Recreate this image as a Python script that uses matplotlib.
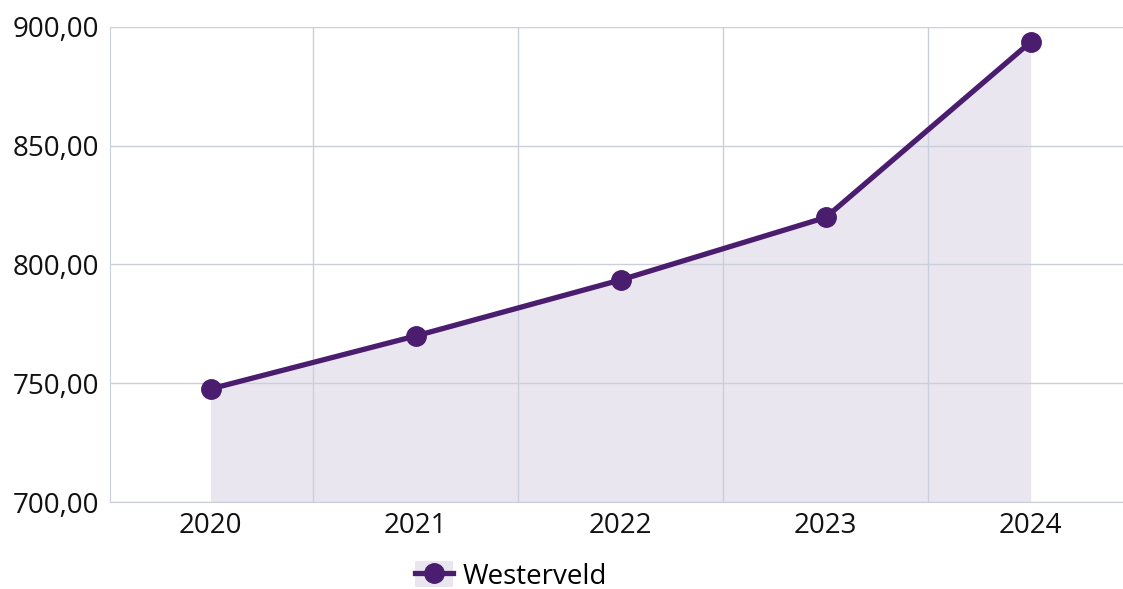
import matplotlib.pyplot as plt
from matplotlib.ticker import FuncFormatter, FixedLocator
from matplotlib.patches import Patch
from matplotlib.lines import Line2D

# Gegevens
jaren = ["2020", "2021", "2022", "2023", "2024"]
waarden = [747.6, 769.9, 793.5, 819.8, 893.7]
reeks = "Westerveld"

lijnkleur = "#4a1d6e"
vulkleur = "#e9e6ef"
rasterkleur = "#cbcfdb"

plt.rcParams["font.family"] = ["Open Sans", "DejaVu Sans"]
plt.rcParams["font.size"] = 20

fig = plt.figure(figsize=(11.23, 5.89), dpi=100)
ax = fig.add_axes([0.098, 0.1477, 0.902, 0.8065])

x = list(range(len(jaren)))
ax.fill_between(x, waarden, 700, color=vulkleur, linewidth=0, zorder=1)
ax.plot(x, waarden, color=lijnkleur, linewidth=3.8, marker="o", markersize=14, zorder=3)

ax.set_xlim(-0.49, 4.45)
ax.set_ylim(700, 900)
ax.set_yticks([700, 750, 800, 850, 900])
ax.yaxis.set_major_formatter(FuncFormatter(lambda v, p: f"{v:.2f}".replace(".", ",")))
ax.set_xticks(x)
ax.set_xticklabels(jaren)
ax.xaxis.set_minor_locator(FixedLocator([0.5, 1.5, 2.5, 3.5]))

ax.grid(axis="y", color=rasterkleur, linewidth=1, zorder=0)
ax.grid(axis="x", which="minor", color=rasterkleur, linewidth=1, zorder=2)
ax.tick_params(axis="both", which="both", length=0, colors="#111111")
ax.tick_params(axis="y", pad=8)
ax.tick_params(axis="x", pad=7)
for s in ["top", "right"]:
    ax.spines[s].set_visible(False)
ax.spines["left"].set_color(rasterkleur)
ax.spines["bottom"].set_color(rasterkleur)

handle = (Patch(facecolor=vulkleur, edgecolor="none"),
          Line2D([], [], color=lijnkleur, linewidth=3.8, marker="o", markersize=14))
fig.legend([handle], [reeks], loc="center", bbox_to_anchor=(0.455, 0.022), frameon=False,
           handlelength=1.35, handleheight=1.05, handletextpad=0.35, fontsize=20)

plt.savefig("out.png", dpi=100)
